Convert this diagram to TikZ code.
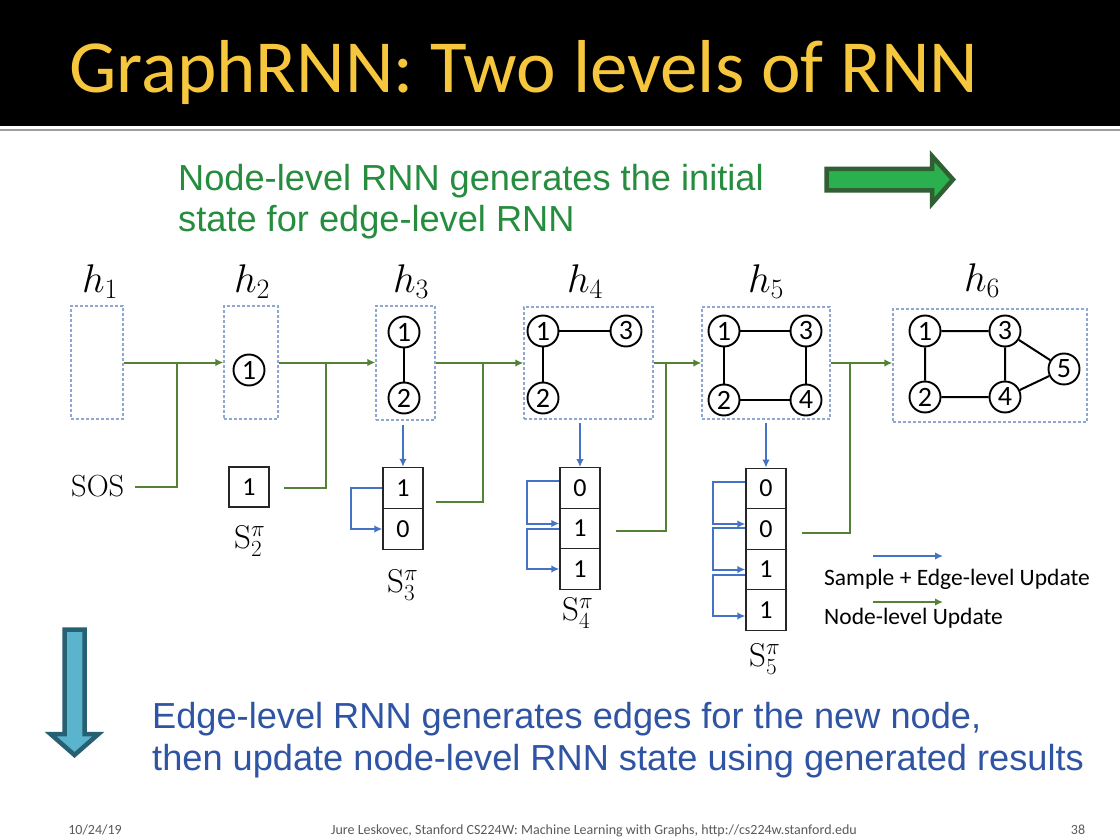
\RequirePackage{fix-cm}
\documentclass[tikz,border=0pt]{standalone}
\usepackage{fontspec}
\usetikzlibrary{arrows.meta}
\newfontfamily\calibri{Carlito}
\newfontfamily\arialf{Liberation Sans}

\definecolor{titlegold}{RGB}{246,198,60}
\definecolor{nodegreen}{RGB}{84,130,53}
\definecolor{edgeblue}{RGB}{68,114,196}
\definecolor{boxblue}{RGB}{143,168,210}
\definecolor{textgreen}{RGB}{38,140,62}
\definecolor{textblue}{RGB}{47,84,163}
\definecolor{arrowgreen}{RGB}{43,176,80}
\definecolor{arrowgreendark}{RGB}{47,95,50}
\definecolor{arrowteal}{RGB}{90,180,205}
\definecolor{arrowtealdark}{RGB}{40,96,115}
\definecolor{footgray}{RGB}{90,90,90}

\begin{document}
\begin{tikzpicture}[x=1pt,y=-1pt,
  hbox/.style={draw=boxblue, dash pattern=on 3pt off 2pt, line width=1.3pt, inner sep=0pt},
  gn/.style={circle, draw, line width=1.9pt, minimum size=31pt, inner sep=0pt, fill=white,
             font=\calibri\fontsize{28}{28}\selectfont},
  gedge/.style={line width=2pt},
  cell/.style={draw=black!85, line width=1.4pt, minimum width=40pt, minimum height=40.5pt,
               inner sep=0pt, font=\calibri\fontsize{26}{26}\selectfont},
  hlabel/.style={anchor=base, inner sep=0pt, font=\fontsize{40}{42}\selectfont},
  slabel/.style={anchor=base west, inner sep=0pt, font=\fontsize{33}{35}\selectfont},
  nodeupd/.style={draw=nodegreen, line width=2pt},
  edgeupd/.style={draw=edgeblue, line width=2pt},
  tip/.style={-{Latex[length=8pt,width=7.5pt]}},
  legendtext/.style={anchor=base west, inner sep=0pt, font=\calibri\fontsize{23.5}{25}\selectfont},
  bigtext/.style={anchor=base west, inner sep=0pt, font=\arialf\fontsize{36.2}{40}\selectfont},
  foot/.style={anchor=base, inner sep=0pt, text=footgray, font=\calibri\fontsize{14}{14}\selectfont}
]
\useasboundingbox (0,0) rectangle (1120,840);
\fill[white] (0,0) rectangle (1120,840);

% title bar
\fill[black] (0,0) rectangle (1120,126);
\draw[line width=2pt, draw=black!38] (0,130.5) -- (1120,130.5);
\node[anchor=base west, inner sep=0pt, text=titlegold, font=\calibri\fontsize{75}{80}\selectfont]
  (title) at (69,93) {GraphRNN: Two levels of RNN};

% headline texts
\node[bigtext, text=textgreen] (top1) at (178,190) {Node-level RNN generates the initial};
\node[bigtext, text=textgreen] (top2) at (178,231) {state for edge-level RNN};
\node[bigtext, text=textblue] (bot1) at (152,728) {Edge-level RNN generates edges for the new node,};
\node[bigtext, text=textblue] (bot2) at (152,770) {then update node-level RNN state using generated results};

% block arrows
\draw[line width=4.5pt, draw=arrowgreendark, fill=arrowgreen, line join=miter]
  (826.5,169) -- (932,169) -- (932,156) -- (953,179.5) -- (932,203.5) -- (932,190.5)
  -- (826.5,190.5) -- cycle;
\draw[line width=4.5pt, draw=arrowtealdark, fill=arrowteal, line join=miter]
  (64.5,629.5) -- (84.5,629.5) -- (84.5,734) -- (98.5,734) -- (74.5,755) -- (50.5,734)
  -- (64.5,734) -- cycle;

% hidden-state boxes
\node[hbox, minimum width=52pt,  minimum height=113pt] (b1) at (97,362.5) {};
\node[hbox, minimum width=54pt,  minimum height=113pt] (b2) at (251,362.5) {};
\node[hbox, minimum width=59pt,  minimum height=114pt] (b3) at (405.5,363) {};
\node[hbox, minimum width=129pt, minimum height=112pt] (b4) at (588.5,363) {};
\node[hbox, minimum width=128pt, minimum height=112pt] (b5) at (766,363) {};
\node[hbox, minimum width=194pt, minimum height=113pt] (b6) at (990,365.5) {};

\node[hlabel] (l1) at (100,292) {$h_1$};
\node[hlabel] (l2) at (252,292) {$h_2$};
\node[hlabel] (l3) at (411,292) {$h_3$};
\node[hlabel] (l4) at (585,292) {$h_4$};
\node[hlabel] (l5) at (766,292) {$h_5$};
\node[hlabel] (l6) at (982,291) {$h_6$};

% graphs
\node[gn] (n21) at (249,370) {1};

\node[gn] (n31) at (404,332) {1};
\node[gn] (n32) at (404,398) {2};
\draw[gedge] (n31) -- (n32);

\node[gn] (n41) at (543,331) {1};
\node[gn] (n42) at (543,398) {2};
\node[gn] (n43) at (626,331) {3};
\draw[gedge] (n41) -- (n43) (n41) -- (n42);

\node[gn] (n51) at (724,331) {1};
\node[gn] (n52) at (724,400) {2};
\node[gn] (n53) at (806,331) {3};
\node[gn] (n54) at (806,400) {4};
\draw[gedge] (n51) -- (n53) (n51) -- (n52) (n52) -- (n54) (n53) -- (n54);

\node[gn] (n61) at (925,331) {1};
\node[gn] (n62) at (925,397) {2};
\node[gn] (n63) at (1005,331) {3};
\node[gn] (n64) at (1005,397) {4};
\node[gn] (n65) at (1064,369) {5};
\draw[gedge] (n61) -- (n63) (n61) -- (n62) (n62) -- (n64) (n63) -- (n64)
  (n63) -- (n65) (n64) -- (n65);

% sequences
\node[anchor=base west, inner sep=0pt, font=\fontsize{30.5}{32}\selectfont] (sos) at (71,496) {SOS};

\node[cell, minimum height=40pt] (s2a) at (249,487) {1};
\node[slabel] (sl2) at (234,548) {$\mathrm{S}_2^\pi$};

\node[cell, minimum height=41pt] (s3a) at (403,488) {1};
\node[cell, minimum height=41pt] (s3b) at (403,529) {0};
\node[slabel] (sl3) at (387,592) {$\mathrm{S}_3^\pi$};

\node[cell] (s4a) at (580,488) {0};
\node[cell] (s4b) at (580,528.5) {1};
\node[cell] (s4c) at (580,569) {1};
\node[slabel] (sl4) at (562,620) {$\mathrm{S}_4^\pi$};

\node[cell] (s5a) at (766,488.5) {0};
\node[cell] (s5b) at (766,529) {0};
\node[cell] (s5c) at (766,569.5) {1};
\node[cell] (s5d) at (766,610) {1};
\node[slabel] (sl5) at (749,666) {$\mathrm{S}_5^\pi$};

% node-level updates
\draw[nodeupd, tip] (b1.east) -- (b2.west |- b1.east);
\draw[nodeupd, tip] (b2.east) -- (b3.west |- b2.east);
\draw[nodeupd, tip] (b3.east) -- (b4.west |- b3.east);
\draw[nodeupd, tip] (b4.east) -- (b5.west |- b4.east);
\draw[nodeupd, tip] (b5.east) -- (b6.west |- b5.east);

\coordinate (j1) at (177,363);
\coordinate (j2) at (326,363);
\coordinate (j3) at (483,363);
\coordinate (j4) at (666,363);
\coordinate (j5) at (850,363);
\coordinate (o1) at (135,487);
\coordinate (o2) at (284,488);
\coordinate (o3) at (436,502);
\coordinate (o4) at (616,531);
\coordinate (o5) at (802,533);
\draw[nodeupd] (o1) -| (j1);
\draw[nodeupd] (o2) -| (j2);
\draw[nodeupd] (o3) -| (j3);
\draw[nodeupd] (o4) -| (j4);
\draw[nodeupd] (o5) -| (j5);

% sample + edge-level updates
\draw[edgeupd, tip, shorten <=4pt] (s3a.north |- b3.south) -- (s3a.north);
\draw[edgeupd, tip, shorten <=3pt] (s4a.north |- b4.south) -- (s4a.north);
\draw[edgeupd, tip, shorten <=3pt] (s5a.north |- b5.south) -- (s5a.north);

\draw[edgeupd, tip] (s3a.west) -- ++(-31,0) |- (s3b.west);

\draw[edgeupd, tip] ([yshift=7pt]s4a.west) -- ++(-32,0) |- ([yshift=5pt]s4b.west);
\draw[edgeupd, tip] (s4b.west) -- ++(-32,0) |- (s4c.west);

\draw[edgeupd, tip] ([yshift=7pt]s5a.west) -- ++(-32,0) |- ([yshift=5pt]s5b.west);
\draw[edgeupd, tip] ([yshift=1pt]s5b.west) -- ++(-32,0) |- (s5c.west);
\draw[edgeupd, tip] ([yshift=-5pt]s5c.west) -- ++(-32,0) |- ([yshift=-6pt]s5d.west);

% legend
\coordinate (e1) at (873,556);
\coordinate (e2) at (943,556);
\coordinate (e3) at (873,602);
\coordinate (e4) at (943,602);
\draw[edgeupd, tip] (e1) -- (e2);
\draw[nodeupd, tip] (e3) -- (e4);
\node[legendtext] (leg1) at (824,585) {Sample + Edge-level Update};
\node[legendtext] (leg2) at (824,624) {Node-level Update};

% footer
\node[foot] (f1) at (95,834) {10/24/19};
\node[foot] (f2) at (594,834) {Jure Leskovec, Stanford CS224W: Machine Learning with Graphs, http://cs224w.stanford.edu};
\node[foot] (f3) at (1078,834) {38};
\end{tikzpicture}
\end{document}
